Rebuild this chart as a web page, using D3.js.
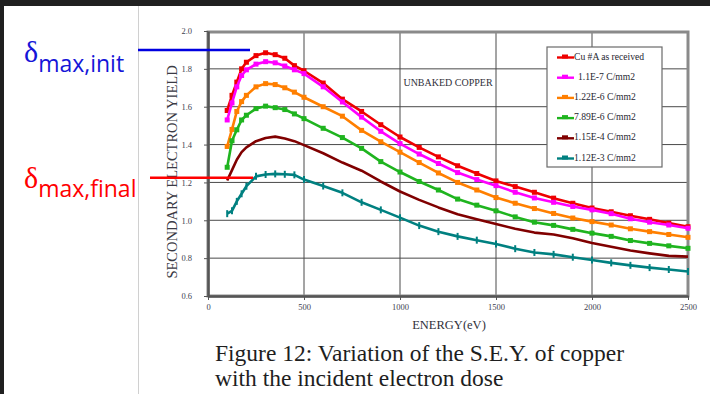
<!DOCTYPE html>
<html><head><meta charset="utf-8">
<script src="https://cdn.jsdelivr.net/npm/d3@7"></script>
<style>
html,body{margin:0;padding:0;background:#fff;}
svg{display:block;}
</style></head>
<body>
<svg id="chart" width="710" height="394"></svg>
<script>
// ---------- DATA ----------
const energy = [100,125,150,175,200,250,300,350,400,450,500,600,700,800,900,1000,1100,1200,1300,1400,1500,1600,1700,1800,1900,2000,2100,2200,2300,2400,2500];
const seriesNames = ["Cu #A as received","1.1E-7 C/mm2","1.22E-6 C/mm2","7.89E-6 C/mm2","1.15E-4 C/mm2","1.12E-3 C/mm2"];
const seriesColors = ["#ee0000","#ff00ff","#ff7f00","#1fb41f","#800000","#008080"];
const asReceived = [1.58,1.66,1.73,1.80,1.835,1.87,1.885,1.875,1.856,1.817,1.79,1.725,1.64,1.575,1.505,1.44,1.385,1.335,1.288,1.247,1.208,1.178,1.148,1.117,1.09,1.065,1.045,1.024,1.005,0.985,0.966];
const dose1_1e7 = [1.53,1.62,1.705,1.765,1.795,1.825,1.838,1.832,1.815,1.795,1.775,1.705,1.625,1.545,1.47,1.405,1.35,1.30,1.252,1.215,1.183,1.148,1.118,1.095,1.073,1.055,1.035,1.008,0.99,0.975,0.958];
const dose1_22e6 = [1.39,1.48,1.575,1.627,1.66,1.705,1.722,1.717,1.70,1.677,1.65,1.60,1.55,1.475,1.415,1.36,1.305,1.25,1.20,1.16,1.12,1.09,1.062,1.036,1.012,0.993,0.975,0.955,0.94,0.925,0.91];
const dose7_89e6 = [1.28,1.42,1.478,1.53,1.555,1.59,1.603,1.595,1.585,1.562,1.537,1.486,1.437,1.38,1.31,1.255,1.205,1.16,1.112,1.08,1.05,1.018,0.99,0.973,0.952,0.932,0.915,0.893,0.878,0.865,0.852];
const dose1_15e4 = [1.21,1.265,1.32,1.36,1.385,1.418,1.435,1.442,1.432,1.418,1.397,1.354,1.305,1.262,1.205,1.152,1.108,1.068,1.032,1.005,0.98,0.955,0.935,0.925,0.905,0.88,0.86,0.84,0.825,0.812,0.808];
const dose1_12e3 = [1.035,1.05,1.10,1.14,1.18,1.232,1.242,1.245,1.243,1.24,1.215,1.181,1.145,1.095,1.055,1.014,0.972,0.94,0.915,0.895,0.875,0.85,0.83,0.82,0.805,0.79,0.775,0.762,0.75,0.74,0.729];
const seriesValues = [asReceived,dose1_1e7,dose1_22e6,dose7_89e6,dose1_15e4,dose1_12e3];
const markerKind = ["square","square","square","square","none","tick"];
const xTicks = [0,500,1000,1500,2000,2500];
const yTicks = [0.6,0.8,1.0,1.2,1.4,1.6,1.8,2.0];
const deltaInit = 1.9;     // level of the blue line
const deltaFinal = 1.225;  // level of the red line

// ---------- LAYOUT ----------
const svg = d3.select("#chart");
const serif = "'Liberation Serif','Times New Roman',serif";
const x = d3.scaleLinear().domain([0,2500]).range([208,688]);
const y = d3.scaleLinear().domain([0.6,2.0]).range([296,31]);

// dark frame of the screenshot
svg.append("rect").attr("x",0).attr("y",0).attr("width",710).attr("height",6).attr("fill","#202020");
svg.append("rect").attr("x",0).attr("y",0).attr("width",4).attr("height",394).attr("fill","#202020");
// slide divider
svg.append("line").attr("x1",138.5).attr("x2",138.5).attr("y1",6).attr("y2",394).attr("stroke","#d0d0d0").attr("stroke-width",1);

// grid
const grid = svg.append("g");
grid.selectAll("line.h").data(yTicks.filter(v=>v>0.61 && v<1.99)).join("line")
  .attr("x1",x(0)).attr("x2",x(2500)).attr("y1",d=>y(d)).attr("y2",d=>y(d))
  .attr("stroke","#4a4a4a").attr("stroke-width",1);
grid.selectAll("line.v").data(xTicks.filter(v=>v>0 && v<2500)).join("line")
  .attr("y1",y(0.6)).attr("y2",y(2.0)).attr("x1",d=>x(d)).attr("x2",d=>x(d))
  .attr("stroke","#4a4a4a").attr("stroke-width",1);

// plot box
svg.append("rect").attr("x",x(0)).attr("y",y(2.0)+1).attr("width",x(2500)-x(0)).attr("height",y(0.6)-y(2.0)-1)
  .attr("fill","none").attr("stroke","#8a8a8a").attr("stroke-width",3);

// axes
const yAxis = svg.append("g").attr("transform",`translate(${x(0)},0)`)
  .call(d3.axisLeft(y).tickValues(yTicks).tickFormat(d3.format(".1f")).tickSize(4).tickSizeOuter(0).tickPadding(12));
const xAxis = svg.append("g").attr("transform",`translate(0,${y(0.6)})`)
  .call(d3.axisBottom(x).tickValues(xTicks).tickFormat(d3.format("d")).tickSize(4).tickSizeOuter(0).tickPadding(4));
[yAxis,xAxis].forEach(a=>{
  a.select(".domain").attr("stroke","#555").attr("stroke-width",2.5);
  a.selectAll(".tick line").attr("stroke","#555");
  a.selectAll("text").attr("font-family",serif).attr("font-size",8.5).attr("fill","#404050");
});

// annotation text
svg.append("text").attr("x",448).attr("y",86).attr("text-anchor","middle")
  .attr("font-family",serif).attr("font-size",10).attr("fill","#30303a").text("UNBAKED COPPER");

// series
const line = d3.line().x((d,i)=>x(energy[i])).y(d=>y(d)).curve(d3.curveLinear);
seriesValues.forEach((vals,k)=>{
  const g = svg.append("g");
  g.append("path").attr("d",line(vals)).attr("fill","none")
    .attr("stroke",seriesColors[k]).attr("stroke-width",2.6).attr("stroke-linejoin","round");
  if(markerKind[k]==="square"){
    g.selectAll("rect").data(vals).join("rect")
      .attr("x",(d,i)=>x(energy[i])-2.5).attr("y",d=>y(d)-2.5).attr("width",5).attr("height",5)
      .attr("fill",seriesColors[k]);
  } else if(markerKind[k]==="tick"){
    g.selectAll("line").data(vals).join("line")
      .attr("x1",(d,i)=>x(energy[i])).attr("x2",(d,i)=>x(energy[i]))
      .attr("y1",d=>y(d)-3.5).attr("y2",d=>y(d)+3.5)
      .attr("stroke",seriesColors[k]).attr("stroke-width",2);
  }
});

// legend
const leg = svg.append("g");
leg.append("rect").attr("x",547).attr("y",47).attr("width",115).attr("height",120)
  .attr("fill","#fff").attr("stroke","#6a6a6a").attr("stroke-width",1.2);
seriesNames.forEach((name,k)=>{
  const ly = 56 + k*20.2;
  leg.append("line").attr("x1",557).attr("x2",574).attr("y1",ly+1.5).attr("y2",ly+1.5)
    .attr("stroke",seriesColors[k]).attr("stroke-width",2.4);
  leg.append("rect").attr("x",562).attr("y",ly-1.5).attr("width",6).attr("height",4).attr("fill",seriesColors[k]);
  leg.append("text").attr("x",k===1?578:574).attr("y",ly+3.5)
    .attr("font-family",serif).attr("font-size",9.6).attr("fill","#262630").text(name);
});

// axis titles
svg.append("text").attr("transform","translate(177,172) rotate(-90)").attr("text-anchor","middle")
  .attr("font-family",serif).attr("font-size",14.5).attr("fill","#3a3a44").text("SECONDARY ELECTRON YIELD");
svg.append("text").attr("x",449).attr("y",329).attr("text-anchor","middle")
  .attr("font-family",serif).attr("font-size",12.5).attr("fill","#30303a").text("ENERGY(eV)");

// caption
svg.append("text").attr("x",215).attr("y",361).attr("font-family",serif).attr("font-size",23.5).attr("fill","#1e1e1e")
  .text("Figure 12: Variation of the S.E.Y. of copper");
svg.append("text").attr("x",215).attr("y",386).attr("font-family",serif).attr("font-size",23.5).attr("fill","#1e1e1e")
  .text("with the incident electron dose");

// delta max markers
svg.append("line").attr("x1",138).attr("x2",250).attr("y1",y(deltaInit)).attr("y2",y(deltaInit))
  .attr("stroke","#0000e0").attr("stroke-width",2.5);
svg.append("line").attr("x1",150).attr("x2",253).attr("y1",y(deltaFinal)).attr("y2",y(deltaFinal))
  .attr("stroke","#ff0000").attr("stroke-width",2.5);
const dInit = svg.append("text").attr("x",24).attr("y",62).attr("fill","#1515d8");
dInit.append("tspan").attr("font-family",serif).attr("font-size",30).text("δ");
dInit.append("tspan").attr("font-family","'Open Sans',sans-serif").attr("font-size",23).attr("dy",10).text("max,init");
const dFinal = svg.append("text").attr("x",24).attr("y",188).attr("fill","#ff0000");
dFinal.append("tspan").attr("font-family",serif).attr("font-size",30).text("δ");
dFinal.append("tspan").attr("font-family","'Open Sans',sans-serif").attr("font-size",23).attr("dy",9).text("max,final");
</script>
</body></html>
